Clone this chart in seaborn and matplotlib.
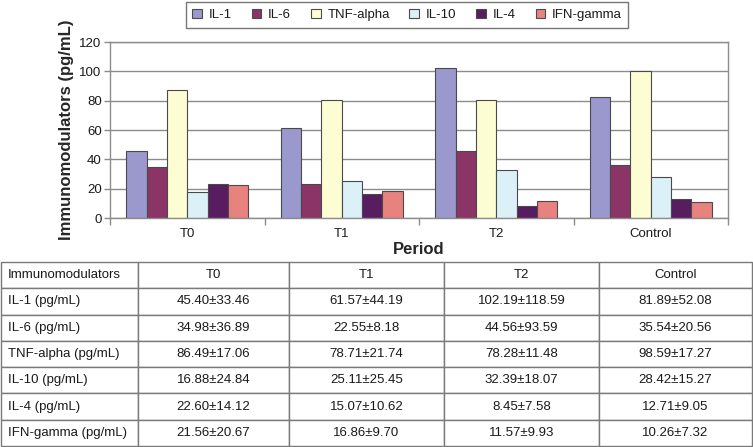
import numpy as np
import pandas as pd
import seaborn as sns
import matplotlib.pyplot as plt
from matplotlib.ticker import FixedLocator


periods = ['T0', 'T1', 'T2', 'Control']
markers = ['IL-1', 'IL-6', 'TNF-alpha', 'IL-10', 'IL-4', 'IFN-gamma']

# bar heights as drawn in the chart
il1 = [46.0, 61.7, 102.5, 82.6]
il6 = [35.0, 23.5, 45.4, 36.4]
tnf = [87.5, 80.4, 80.4, 100.4]
il10 = [17.8, 25.3, 32.5, 28.0]
il4 = [23.3, 16.1, 8.2, 12.8]
ifn = [22.6, 18.2, 11.4, 10.8]

# table values (mean, sd)
mean_vals = [[45.40, 61.57, 102.19, 81.89],
             [34.98, 22.55, 44.56, 35.54],
             [86.49, 78.71, 78.28, 98.59],
             [16.88, 25.11, 32.39, 28.42],
             [22.60, 15.07, 8.45, 12.71],
             [21.56, 16.86, 11.57, 10.26]]
sd_vals = [[33.46, 44.19, 118.59, 52.08],
           [36.89, 8.18, 93.59, 20.56],
           [17.06, 21.74, 11.48, 17.27],
           [24.84, 25.45, 18.07, 15.27],
           [14.12, 10.62, 7.58, 9.05],
           [20.67, 9.70, 9.93, 7.32]]

colors = ['#9a98cc', '#8b3566', '#fdfdd3', '#dcf0f8', '#581c60', '#e8827e']

sns.set_theme(style='white')
plt.rcParams['font.family'] = ['Liberation Sans', 'DejaVu Sans']
plt.rcParams['text.color'] = '#1a1a1a'

rows = []
for m, vals in zip(markers, [il1, il6, tnf, il10, il4, ifn]):
    for p, v in zip(periods, vals):
        rows.append({'period': p, 'marker': m, 'value': v})
df = pd.DataFrame(rows)

W, H = 753, 447
fig = plt.figure(figsize=(W / 100, H / 100), dpi=100)
ax = fig.add_axes([110 / W, 1 - 218 / H, 618 / W, 176 / H])

sns.barplot(data=df, x='period', y='value', hue='marker', palette=colors,
            saturation=1, edgecolor='#4a4a4a', linewidth=0.8, width=0.79, ax=ax)

handles, labels = ax.get_legend_handles_labels()
ax.get_legend().remove()

ax.set_ylim(0, 120)
ax.set_xlim(-0.5, 3.5)
ax.set_yticks(range(0, 121, 20))
ax.yaxis.grid(True, color='#8c8c8c', linewidth=1)
ax.set_axisbelow(True)
for s in ax.spines.values():
    s.set_color('#8c8c8c')
    s.set_linewidth(1)

ax.tick_params(axis='y', left=True, length=4, width=1, color='#8c8c8c',
               pad=2, labelsize=9.5, labelcolor='#1a1a1a')
ax.tick_params(axis='x', which='major', length=0, pad=7, labelsize=9.5,
               labelcolor='#1a1a1a')
ax.xaxis.set_minor_locator(FixedLocator([-0.5, 0.5, 1.5, 2.5, 3.5]))
ax.tick_params(axis='x', which='minor', bottom=True, length=5, width=1,
               color='#8c8c8c')

ax.set_xlabel('Period', fontsize=12, fontweight='bold')
ax.xaxis.set_label_coords(0.5, -0.135)
ax.set_ylabel('Immunomodulators (pg/mL)', fontsize=12, fontweight='bold')
ax.yaxis.set_label_coords(-0.058, 0.5)

leg = fig.legend(handles, labels, loc='center', bbox_to_anchor=(407 / W, 1 - 15 / H),
                 ncol=6, fontsize=9.5, frameon=True, fancybox=False,
                 handlelength=0.75, handleheight=0.75, handletextpad=0.5,
                 columnspacing=1.5, borderpad=0.5)
leg.get_frame().set_edgecolor('#555555')
leg.get_frame().set_linewidth(1)

# table below the chart
tax = fig.add_axes([0, 0, 1, 1])
tax.set_axis_off()
tax.patch.set_alpha(0)

cell_text = [['Immunomodulators'] + periods]
for m, mv, sv in zip(markers, mean_vals, sd_vals):
    cell_text.append([m + ' (pg/mL)'] + ['%.2f±%.2f' % (a, b) for a, b in zip(mv, sv)])

col_w = np.array([137, 151, 155, 155, 153]) / W
tab = tax.table(cellText=cell_text, colWidths=list(col_w), cellLoc='center',
                bbox=[1 / W, 1 / H, 751 / W, 184 / H])
tab.auto_set_font_size(False)
tab.set_fontsize(9.5)
for (r, c), cell in tab.get_celld().items():
    cell.set_edgecolor('#7a7a7a')
    cell.set_linewidth(1)
    cell.get_text().set_color('#1a1a1a')
    if c == 0:
        cell.get_text().set_ha('left')
        cell.PAD = 0.05

fig.savefig('out.png', dpi=100)
